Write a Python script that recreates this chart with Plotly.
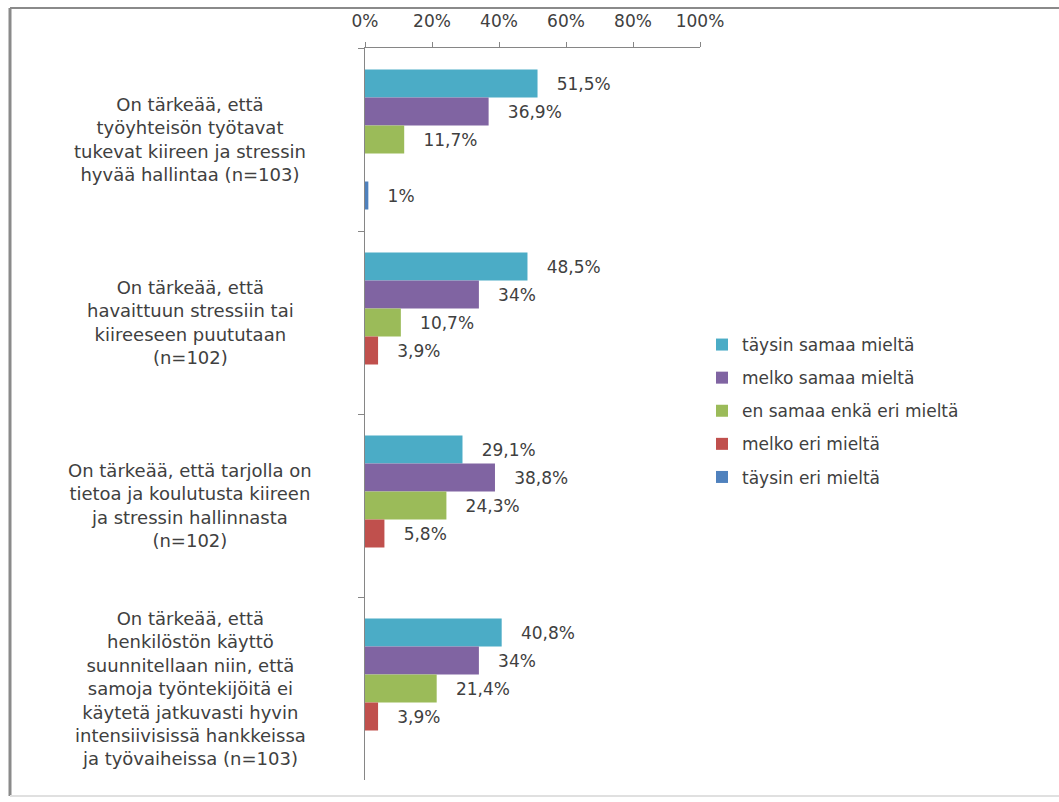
import plotly.graph_objects as go

# Survey statements (category axis, top to bottom)
statements = [
    "On tärkeää, että<br>työyhteisön työtavat<br>tukevat kiireen ja stressin<br>hyvää hallintaa (n=103)",
    "On tärkeää, että<br>havaittuun stressiin tai<br>kiireeseen puututaan<br>(n=102)",
    "On tärkeää, että tarjolla on<br>tietoa ja koulutusta kiireen<br>ja stressin hallinnasta<br>(n=102)",
    "On tärkeää, että<br>henkilöstön käyttö<br>suunnitellaan niin, että<br>samoja työntekijöitä ei<br>käytetä jatkuvasti hyvin<br>intensiivisissä hankkeissa<br>ja työvaiheissa (n=103)",
]

# Answer options and their shares (percent) per statement
series_names = [
    "täysin samaa mieltä",
    "melko samaa mieltä",
    "en samaa enkä eri mieltä",
    "melko eri mieltä",
    "täysin eri mieltä",
]
taysin_samaa = [51.5, 48.5, 29.1, 40.8]
melko_samaa = [36.9, 34.0, 38.8, 34.0]
ei_samaa_eika_eri = [11.7, 10.7, 24.3, 21.4]
melko_eri = [None, 3.9, 5.8, 3.9]
taysin_eri = [1.0, None, None, None]

series_values = [taysin_samaa, melko_samaa, ei_samaa_eika_eri, melko_eri, taysin_eri]
series_colors = ["#4BACC6", "#8064A2", "#9BBB59", "#C0504D", "#4F81BD"]

tick_vals = [0, 0.2, 0.4, 0.6, 0.8, 1.0]
tick_text = ["0%", "20%", "40%", "60%", "80%", "100%"]

FONT = "DejaVu Sans"
TEXT_COLOR = "#404040"
AXIS_COLOR = "#868686"

W, H = 1059, 802
L, R, T, B = 365, 359, 48, 22
PW, PH = W - L - R, H - T - B


def px_x(px):
    return (px - L) / PW


def px_y(py):
    return (H - B - py) / PH


def fmt(v):
    s = f"{v:.1f}".rstrip("0").rstrip(".").replace(".", ",")
    return "\u00a0\u00a0\u00a0" + s + "%"


fig = go.Figure()
for name, vals, color in zip(series_names, series_values, series_colors):
    fig.add_trace(go.Bar(
        name=name,
        legendgroup=name,
        orientation="h",
        y=statements,
        x=[None if v is None else v / 100 for v in vals],
        marker=dict(color=color, line=dict(width=0)),
        text=["" if v is None else fmt(v) for v in vals],
        textposition="outside",
        textfont=dict(family=FONT, size=17, color=TEXT_COLOR),
        cliponaxis=False,
        hoverinfo="skip",
    ))

# Centered multi-line statement labels on the left
for s in statements:
    fig.add_annotation(
        x=px_x(190), xref="paper", y=s, yref="y",
        text=s, showarrow=False, align="center",
        xanchor="center", yanchor="middle",
        font=dict(family=FONT, size=18, color=TEXT_COLOR),
    )

# Outer frame
frame = [
    dict(x0=px_x(10), x1=px_x(10), y0=px_y(8), y1=px_y(796), color="#8a8a8a", width=3),
    dict(x0=px_x(10), x1=px_x(1062), y0=px_y(8), y1=px_y(8), color="#8a8a8a", width=2),
    dict(x0=px_x(10), x1=px_x(1062), y0=px_y(796), y1=px_y(796), color="#e0e0e0", width=2),
]
for f in frame:
    fig.add_shape(type="line", xref="paper", yref="paper",
                  x0=f["x0"], x1=f["x1"], y0=f["y0"], y1=f["y1"],
                  line=dict(color=f["color"], width=f["width"]))

fig.update_layout(
    width=W, height=H,
    margin=dict(l=L, r=R, t=T, b=B),
    paper_bgcolor="white",
    plot_bgcolor="white",
    barmode="group",
    bargap=0.235,
    bargroupgap=0,
    font=dict(family=FONT, color=TEXT_COLOR),
    xaxis=dict(
        side="top", range=[0, 1], tickvals=tick_vals, ticktext=tick_text,
        showgrid=False, zeroline=False, showline=True, linecolor=AXIS_COLOR,
        ticks="outside", ticklen=5, tickcolor=AXIS_COLOR,
        ticklabelstandoff=8,
        tickfont=dict(family=FONT, size=17, color=TEXT_COLOR),
    ),
    yaxis=dict(
        autorange="reversed", showticklabels=False, showgrid=False,
        zeroline=False, showline=True, linecolor=AXIS_COLOR,
        ticks="outside", ticklen=6, tickcolor=AXIS_COLOR, tickson="boundaries",
    ),
    legend=dict(
        x=px_x(702), xanchor="left", y=px_y(411), yanchor="middle",
        traceorder="grouped", tracegroupgap=8, itemwidth=30,
        font=dict(family=FONT, size=17, color=TEXT_COLOR),
        bgcolor="rgba(0,0,0,0)",
    ),
)
fig.update_traces(constraintext="none")

fig.write_html("out.html")
